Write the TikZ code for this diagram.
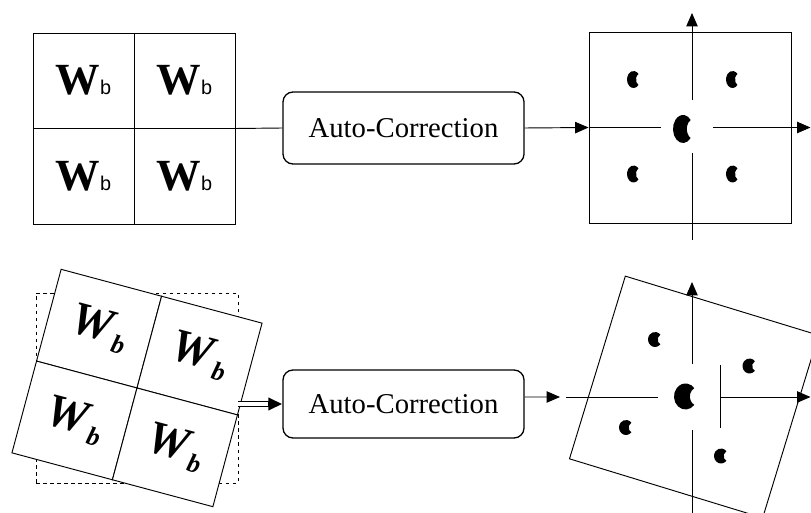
\documentclass[tikz,border=0pt]{standalone}
\usepackage{fontspec}
\setmainfont{Liberation Serif}
\newfontfamily\smallsans{Liberation Sans}
\usetikzlibrary{arrows.meta,positioning}
\tikzset
{
    cell/.style    = {rectangle, draw=black, line width=0.8pt, minimum width=3.03cm, minimum height=2.865cm, inner sep=0pt, outer sep=0pt},
    tilted/.style  = {cell, fill=white, minimum width=3.12cm, minimum height=2.85cm},
    ghost/.style   = {rectangle, draw=black, dashed, line width=0.6pt, minimum width=6.06cm, minimum height=5.7cm},
    process/.style = {rectangle, rounded corners=0.3cm, draw=black, line width=1.1pt, minimum width=7.23cm, minimum height=2.16cm, align=center, font=\fontsize{24.5}{28}\selectfont},
    plane/.style   = {rectangle, draw=black, line width=0.8pt, minimum width=6.06cm, minimum height=5.73cm},
    axis/.style    = {line width=0.8pt},
    arrow/.style   = {line width=0.8pt, -{Triangle[length=0.4cm, width=0.34cm]}},
    dblarrow/.style= {line width=5pt, -{Triangle[length=0.42cm, width=0.36cm]},
                      postaction={draw=white, line width=3.4pt, shorten >=0.44cm, -}},
    crescent/.pic  = {
        \fill (40:1) arc[start angle=40, end angle=320, radius=1]
                     arc[start angle=242.5, end angle=117.5, radius=0.724] -- cycle;
    }
}
\newcommand{\wup}{{\fontsize{38}{38}\selectfont\bfseries W}{\smallsans\fontsize{17}{17}\selectfont b}}
\newcommand{\wit}{{\fontsize{40}{40}\selectfont\bfseries\itshape W}\kern3pt\raisebox{-7pt}{\fontsize{22}{22}\selectfont\bfseries\itshape b}}

\begin{document}
\begin{tikzpicture}[x=0.03cm, y=-0.03cm]
	\useasboundingbox (0,0) rectangle (811,513);

	% upper row
	\node (ca) [cell] at (83.5,80.75) {\wup};
	\node (cb) [cell, right=0pt of ca] {\wup};
	\node (cc) [cell, below=0pt of ca] {\wup};
	\node (cd) [cell, right=0pt of cc] {\wup};
	\node (ac1) [process] at (403.5,128) {Auto-Correction};
	\node (sq1) [plane] at (690,127.5) {};

	\coordinate (h1a) at (661,127.5);
	\coordinate (h1b) at (713,127.5);
	\coordinate (h1c) at (810.5,127.5);
	\coordinate (v1a) at (692,100);
	\coordinate (v1b) at (692,13);
	\coordinate (v1c) at (692,153);
	\coordinate (v1d) at (692,240);

	\draw [axis] (cb.south east) -- (ac1.west);
	\draw [arrow] (ac1.east) -- (sq1.west);
	\draw [axis] (sq1.west) -- (h1a);
	\draw [arrow] (h1b) -- (h1c);
	\draw [arrow] (v1a) -- (v1b);
	\draw [axis] (v1c) -- (v1d);

	\pic [xscale=10, yscale=14] at (683,129) {crescent};
	\pic [xscale=6.5, yscale=8.5] at (633.5,79.5) {crescent};
	\pic [xscale=6.5, yscale=8.5] at (732.5,79.5) {crescent};
	\pic [xscale=6.5, yscale=8.5] at (633.5,174) {crescent};
	\pic [xscale=6.5, yscale=8.5] at (732.5,174) {crescent};

	% lower row
	\node (ghost) [ghost] at (137,388) {};
	\begin{scope}[shift={(137,388)}, rotate=-15, transform shape]
		\node (ra) [tilted] at (-52,-47.5) {\wit};
		\node (rb) [tilted] at (52,-47.5) {\wit};
		\node (rc) [tilted] at (-52,47.5) {\wit};
		\node (rd) [tilted] at (52,47.5) {\wit};
	\end{scope}
	\node (ac2) [process, minimum height=2.04cm] at (403.5,404) {Auto-Correction};
	\node (sq2) [plane, rotate=-17] at (694,397) {};

	\coordinate (in2) at (560,397);
	\coordinate (h2a) at (566,397);
	\coordinate (h2b) at (658,397);
	\coordinate (h2c) at (720,397);
	\coordinate (h2d) at (810.5,397);
	\coordinate (t2a) at (720,365);
	\coordinate (t2b) at (720,428);
	\coordinate (v2a) at (692,364);
	\coordinate (v2b) at (692,282);
	\coordinate (v2c) at (692,430);
	\coordinate (v2d) at (692,513);

	\draw [dblarrow] (ghost.east |- ac2.west) -- (ac2.west);
	\draw [arrow] ([yshift=0.21cm]ac2.east) -- (in2);
	\draw [axis] (h2a) -- (h2b);
	\draw [arrow] (h2c) -- (h2d);
	\draw [axis] (t2a) -- (t2b);
	\draw [arrow] (v2a) -- (v2b);
	\draw [axis] (v2c) -- (v2d);

	\pic [xscale=11.5, yscale=13] at (685.5,396.5) {crescent};
	\pic [xscale=7, yscale=7.5] at (655,339.5) {crescent};
	\pic [xscale=7, yscale=7.5] at (749.5,366) {crescent};
	\pic [xscale=7, yscale=7.5] at (626,427.5) {crescent};
	\pic [xscale=7, yscale=7.5] at (721,456) {crescent};
\end{tikzpicture}
\end{document}
